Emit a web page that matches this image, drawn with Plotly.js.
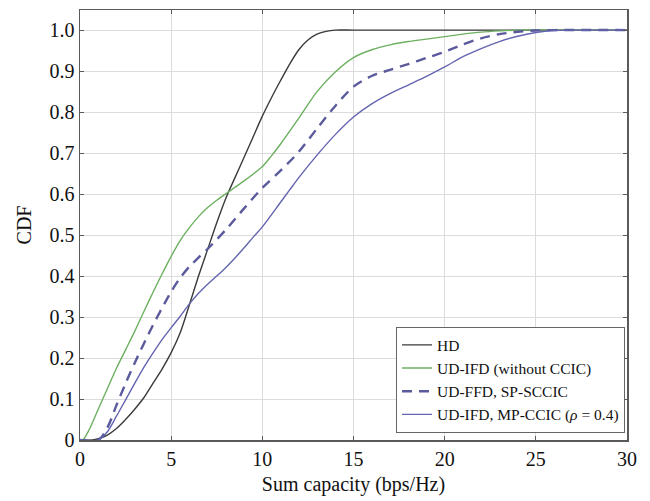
<!DOCTYPE html>
<html>
<head>
<meta charset="utf-8">
<script src="https://cdn.plot.ly/plotly-3.0.1.min.js"></script>
<style>html,body{margin:0;padding:0;background:#fff;}#chart{width:650px;height:501px;}</style>
</head>
<body>
<div id="chart"></div>
<script>
// Sum capacity (bps/Hz) sample points and CDF values
const hdX = [0, 0.7, 1, 1.5, 2, 2.5, 3, 3.5, 4, 4.5, 5, 5.5, 6, 6.5, 7, 7.5, 8, 8.5, 9, 9.5, 10, 10.5, 11, 11.5, 12, 12.5, 13, 13.5, 14, 15, 20, 25, 30];
const hdY = [0, 0, 0.003, 0.012, 0.028, 0.05, 0.075, 0.103, 0.138, 0.173, 0.213, 0.262, 0.33, 0.4, 0.465, 0.53, 0.59, 0.64, 0.69, 0.74, 0.79, 0.835, 0.877, 0.917, 0.952, 0.976, 0.99, 0.997, 1, 1, 1, 1, 1];

const ifdX = [0, 0.15, 0.5, 1, 1.5, 2, 2.5, 3, 3.5, 4, 4.5, 5, 5.5, 6, 6.5, 7, 7.5, 8, 9, 10, 10.5, 11, 12, 13, 14, 15, 16, 17, 18, 19, 20, 21, 22, 23, 24, 30];
const ifdY = [0, 0, 0.025, 0.075, 0.125, 0.175, 0.22, 0.265, 0.313, 0.36, 0.405, 0.448, 0.487, 0.518, 0.545, 0.567, 0.585, 0.601, 0.632, 0.667, 0.693, 0.722, 0.785, 0.85, 0.898, 0.933, 0.952, 0.964, 0.972, 0.978, 0.984, 0.99, 0.995, 0.998, 1, 1];

const ffdX = [0, 1, 1.5, 2, 2.5, 3, 3.5, 4, 4.5, 5, 5.5, 6, 6.5, 7, 8, 9, 10, 11, 12, 13, 14, 15, 16, 17, 18, 19, 20, 21, 22, 23, 24, 25, 26, 30];
const ffdY = [0, 0, 0.03, 0.085, 0.138, 0.188, 0.235, 0.28, 0.322, 0.362, 0.396, 0.423, 0.445, 0.466, 0.513, 0.565, 0.615, 0.657, 0.703, 0.76, 0.815, 0.862, 0.888, 0.903, 0.917, 0.932, 0.947, 0.965, 0.98, 0.99, 0.996, 0.999, 1, 1];

const mpX = [0, 1, 1.5, 2, 2.5, 3, 3.5, 4, 4.5, 5, 5.5, 6, 6.5, 7, 7.5, 8, 8.5, 9, 9.5, 10, 11, 11.5, 12, 13, 14, 15, 16, 17, 18, 19, 20, 21, 22, 23, 24, 25, 26, 27, 30];
const mpY = [0, 0, 0.02, 0.058, 0.098, 0.138, 0.177, 0.212, 0.245, 0.274, 0.302, 0.332, 0.358, 0.38, 0.4, 0.421, 0.444, 0.469, 0.495, 0.52, 0.58, 0.61, 0.64, 0.695, 0.745, 0.788, 0.82, 0.845, 0.866, 0.887, 0.91, 0.935, 0.955, 0.972, 0.985, 0.994, 0.999, 1, 1];

const seriesNames = ['HD', 'UD-IFD (without CCIC)', 'UD-FFD, SP-SCCIC', 'UD-IFD, MP-CCIC (<i>ρ</i> = 0.4)'];
const xTicks = [0, 5, 10, 15, 20, 25, 30];
const yTickVals = [0, 0.1, 0.2, 0.3, 0.4, 0.5, 0.6, 0.7, 0.8, 0.9, 1.0];
const yTickText = ['0', '0.1', '0.2', '0.3', '0.4', '0.5', '0.6', '0.7', '0.8', '0.9', '1.0'];

const font = '"Liberation Serif", "Times New Roman", serif';

const traces = [
  {x: hdX, y: hdY, name: seriesNames[0], mode: 'lines', line: {color: '#3a3a3a', width: 1.4, shape: 'spline', smoothing: 0.8}},
  {x: ifdX, y: ifdY, name: seriesNames[1], mode: 'lines', line: {color: '#6cb060', width: 1.4, shape: 'spline', smoothing: 0.8}},
  {x: ffdX, y: ffdY, name: seriesNames[2], mode: 'lines', line: {color: '#5a5a9c', width: 2.4, dash: '10px,7px', shape: 'spline', smoothing: 0.8}},
  {x: mpX, y: mpY, name: seriesNames[3], mode: 'lines', line: {color: '#6464b0', width: 1.4, shape: 'spline', smoothing: 0.8}}
];

const axisCommon = {
  showline: true, linecolor: '#5a5a5a', linewidth: 1.5, mirror: 'ticks',
  ticks: 'inside', ticklen: 4, tickcolor: '#5a5a5a',
  showgrid: true, gridcolor: '#dcdcdc', gridwidth: 1,
  zeroline: false,
  tickfont: {family: font, size: 20, color: '#111'}
};

const layout = {
  width: 650, height: 501,
  margin: {l: 80, r: 23, t: 10, b: 61},
  paper_bgcolor: '#fff', plot_bgcolor: '#fff',
  showlegend: true,
  xaxis: Object.assign({}, axisCommon, {
    range: [0, 30], tickvals: xTicks, ticktext: xTicks.map(String),
    title: {text: 'Sum capacity (bps/Hz)', font: {family: font, size: 20, color: '#111'}, standoff: 8}
  }),
  yaxis: Object.assign({}, axisCommon, {
    range: [0, 1.049], tickvals: yTickVals, ticktext: yTickText,
    title: {text: 'CDF', font: {family: font, size: 20, color: '#111'}, standoff: 12}
  }),
  legend: {
    x: 0.996, y: 0.016, xanchor: 'right', yanchor: 'bottom',
    bgcolor: '#fff', bordercolor: '#666', borderwidth: 1.2,
    font: {family: font, size: 15.5, color: '#111'},
    tracegroupgap: 0, itemwidth: 30
  }
};

Plotly.newPlot('chart', traces, layout, {displayModeBar: false, staticPlot: true});
</script>
</body>
</html>
